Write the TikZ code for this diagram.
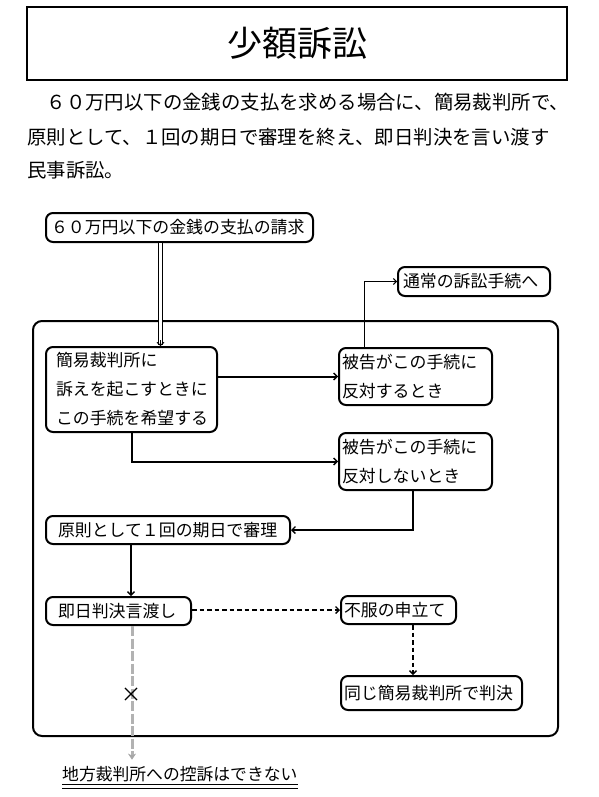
\documentclass[tikz,border=0pt]{standalone}
\usepackage{fontspec}
\setmainfont{Noto Sans CJK JP}
\usetikzlibrary{arrows.meta,shapes.misc}
\begin{document}
\begin{tikzpicture}[x=1pt,y=-1pt,
  box/.style={draw, line width=2pt, rounded corners=7pt, anchor=north west, align=left,
    font=\fontsize{16.9}{29}\selectfont, inner ysep=0pt},
  tip/.style={-{Straight Barb[length=3.5pt,width=7pt,line width=1.3pt]}},
  conn/.style={line width=2pt, tip},
  thinconn/.style={line width=1pt, -{Straight Barb[length=3pt,width=6pt,line width=1pt]}},
  dconn/.style={line width=2pt, dash pattern=on 4.5pt off 3pt, tip},
  grayconn/.style={line width=3pt, draw=gray!60, dash pattern=on 10pt off 2.5pt,
    -{Stealth[length=6pt,width=8pt,color=gray!70,fill=gray!70]}},
  paraline/.style={anchor=base west, inner sep=0pt, font=\fontsize{19.4}{33}\selectfont}
]
\useasboundingbox (0,0) rectangle (598,797);
% title
\node[draw, line width=2pt, minimum width=540pt, minimum height=73pt, inner sep=0pt,
  font=\fontsize{35}{35}\selectfont] (title) at (297,43.5) {少額訴訟};
% paragraph
\node[paraline] (p1) at (27,110) {　６０万円以下の金銭の支払を求める場合に、簡易裁判所で、};
\node[paraline] (p2) at (27,144) {原則として、１回の期日で審理を終え、即日判決を言い渡す};
\node[paraline] (p3) at (27,177) {民事訴訟。};
% frame
\node[draw, line width=2pt, rounded corners=9pt, anchor=north west, inner sep=0pt,
  minimum width=525pt, minimum height=415pt] (frame) at (32,320) {};
% boxes
\node[box, text width=257pt, inner xsep=5pt, minimum height=29pt] (a) at (45,212) {６０万円以下の金銭の支払の請求};
\node[box, text width=151pt, inner xsep=10pt, minimum height=85pt] (b) at (45,346) {簡易裁判所に\\訴えを起こすときに\\この手続を希望する};
\node[box, text width=147pt, inner xsep=3pt, minimum height=57pt] (c) at (338,347) {被告がこの手続に\\反対するとき};
\node[box, text width=147pt, inner xsep=3pt, minimum height=57pt] (d) at (338,432) {被告がこの手続に\\反対しないとき};
\node[box, text width=142pt, inner xsep=5pt, minimum height=29pt] (e) at (397,266) {通常の訴訟手続へ};
\node[box, text width=220pt, inner xsep=12pt, minimum height=28pt] (f) at (45,515) {原則として１回の期日で審理};
\node[box, text width=121pt, inner xsep=12pt, minimum height=28pt] (g) at (45,596) {即日判決言渡し};
\node[box, text width=109pt, inner xsep=3pt, minimum height=28pt] (h) at (340,595) {不服の申立て};
\node[box, text width=175pt, inner xsep=3pt, minimum height=34pt] (i) at (340,675) {同じ簡易裁判所で判決};
\node[anchor=base west, inner sep=0pt, font=\fontsize{16.8}{20}\selectfont] (j) at (62,780) {地方裁判所への控訴はできない};
\draw[line width=1pt] ([yshift=-4pt]j.base west) -- ([yshift=-4pt]j.base east);
\draw[line width=1pt] ([yshift=-8pt]j.base west) -- ([yshift=-8pt]j.base east);
% connectors
\draw[double, double distance=2.4pt, line width=1pt] ([xshift=-19pt]a.south) -- ([xshift=-19pt,yshift=1pt]a.south |- b.north);
\draw[line width=1pt, -{Straight Barb[length=3pt,width=7pt,line width=1pt]}] ([xshift=-19pt,yshift=6pt]a.south |- b.north) -- ([xshift=-19pt]a.south |- b.north);
\draw[conn] (b.east |- c.west) -- (c.west);
\draw[conn] (b.south) |- (d.west);
\draw[thinconn] ([xshift=-51.5pt]c.north) |- (e.west);
\draw[conn] ([xshift=-2.5pt]d.south) |- (f.east);
\draw[conn] ([xshift=-37pt]f.south) -- ([xshift=-37pt]f.south |- g.north);
\draw[dconn] (h.west -| g.east) -- (h.west);
\draw[dconn] ([xshift=14.5pt]h.south) -- ([xshift=14.5pt]h.south |- i.north);
\draw[grayconn] ([xshift=13.5pt]g.south) -- ([xshift=13.5pt,yshift=6pt]g.south |- j.north);
\node[cross out, draw, line width=1.1pt, minimum size=11pt, inner sep=0pt] (cross) at (131,694) {};
\end{tikzpicture}
\end{document}
